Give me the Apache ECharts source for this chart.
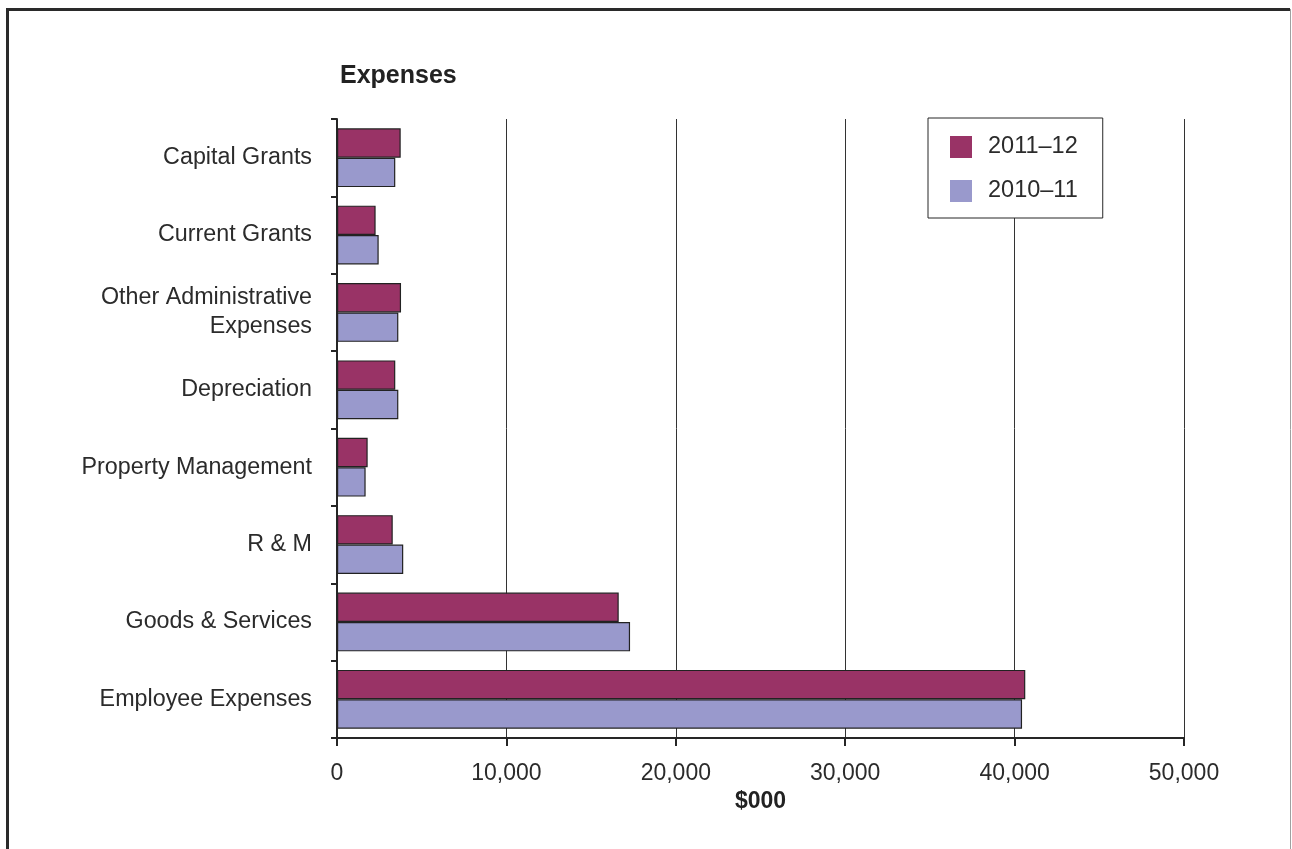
<!DOCTYPE html>
<html>
<head>
<meta charset="utf-8">
<title>Expenses</title>
<script src="https://cdn.jsdelivr.net/npm/echarts@6/dist/echarts.min.js"></script>
<style>
  html, body { margin: 0; padding: 0; background: #fff; }
  #chart { width: 1292px; height: 849px; }
</style>
</head>
<body>
<div id="chart"></div>
<script>
// Expense categories, listed top to bottom
const categories = [
  'Capital Grants',
  'Current Grants',
  'Other Administrative\nExpenses',
  'Depreciation',
  'Property Management',
  'R & M',
  'Goods & Services',
  'Employee Expenses'
];

// Values in $000
const seriesNames = ['2011\u201312', '2010\u201311'];
const values2011_12 = [3760, 2280, 3780, 3440, 1810, 3290, 16630, 40630];
const values2010_11 = [3440, 2460, 3620, 3620, 1690, 3910, 17300, 40440];

const axisMin = 0;
const axisMax = 50000;
const axisStep = 10000;

const FONT = '"Liberation Sans", Arial, Helvetica, sans-serif';
const TEXT = '#2b2b2b';
const LINE = '#262626';

const chart = echarts.init(document.getElementById('chart'), null, { renderer: 'canvas' });

chart.setOption({
  animation: false,
  backgroundColor: '#ffffff',
  textStyle: { fontFamily: FONT },
  title: {
    text: 'Expenses',
    left: 340,
    top: 64,
    padding: 0,
    textStyle: { fontFamily: FONT, fontSize: 25, fontWeight: 'bold', color: '#222' }
  },
  legend: {
    orient: 'vertical',
    left: 928,
    top: 118,
    padding: [17, 25, 15, 22],
    itemGap: 20,
    itemWidth: 22,
    itemHeight: 22,
    icon: 'rect',
    backgroundColor: '#ffffff',
    borderColor: LINE,
    borderWidth: 1,
    borderRadius: 0,
    data: seriesNames,
    itemStyle: { borderWidth: 0 },
    textStyle: {
      fontFamily: FONT, fontSize: 23.5, color: TEXT,
      padding: [0, 0, 0, 11]
    }
  },
  grid: {
    left: 337,
    right: 108,
    top: 119,
    bottom: 111,
    containLabel: false
  },
  xAxis: {
    type: 'value',
    min: axisMin,
    max: axisMax,
    interval: axisStep,
    name: '$000',
    nameLocation: 'middle',
    nameGap: 45,
    nameTextStyle: { fontFamily: FONT, fontSize: 23, fontWeight: 'bold', color: '#222' },
    axisLine: { show: true, lineStyle: { color: LINE, width: 2 } },
    axisTick: { show: true, length: 8, lineStyle: { color: LINE, width: 2 } },
    axisLabel: {
      margin: 24,
      fontFamily: FONT, fontSize: 23, color: TEXT,
      formatter: v => v.toLocaleString('en-US')
    },
    splitLine: { show: true, lineStyle: { color: '#333', width: 1 } }
  },
  yAxis: {
    type: 'category',
    inverse: true,
    data: categories,
    axisLine: { show: true, lineStyle: { color: LINE, width: 2 } },
    axisTick: { show: true, length: 6, lineStyle: { color: LINE, width: 2 } },
    axisLabel: {
      margin: 25,
      fontFamily: FONT, fontSize: 23.3, color: TEXT,
      lineHeight: 29,
      padding: [3, 0, 0, 0],
      align: 'right'
    },
    splitLine: { show: false }
  },
  series: [
    {
      name: seriesNames[0],
      type: 'bar',
      data: values2011_12,
      barGap: '0%',
      barCategoryGap: '24%',
      itemStyle: { color: '#993366', borderColor: '#222', borderWidth: 1.2 }
    },
    {
      name: seriesNames[1],
      type: 'bar',
      data: values2010_11,
      barGap: '0%',
      barCategoryGap: '24%',
      itemStyle: { color: '#9999cc', borderColor: '#222', borderWidth: 1.2 }
    }
  ],
  graphic: [
    // page frame: heavy left and top edges, light right edge
    {
      type: 'polyline',
      silent: true,
      shape: { points: [[7.5, 860], [7.5, 9.5], [1290, 9.5]] },
      style: { stroke: '#2a2a2a', lineWidth: 3, fill: null }
    },
    {
      type: 'line',
      silent: true,
      shape: { x1: 1290.5, y1: 9, x2: 1290.5, y2: 860 },
      style: { stroke: '#a0a0a0', lineWidth: 1 }
    }
  ]
});
</script>
</body>
</html>
